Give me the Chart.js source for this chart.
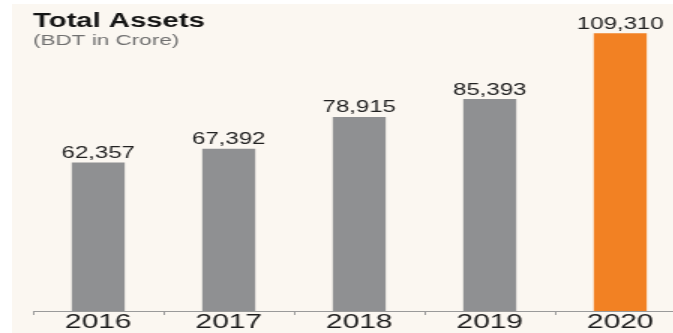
<!DOCTYPE html>
<html>
<head>
<meta charset="utf-8">
<script src="https://cdn.jsdelivr.net/npm/chart.js@4/dist/chart.umd.min.js"></script>
<style>
  html, body { margin: 0; padding: 0; background: #ffffff; overflow: hidden; width: 673px; height: 333px; }
  #bg { position: absolute; left: 12px; top: 4px; right: 0; bottom: 0; background: #fbf7f1; }
  #wrap { position: absolute; left: 0; top: 0; width: 465px; height: 333px; transform: scaleX(1.5); transform-origin: 0 0; }
</style>
</head>
<body>
<div id="bg"></div>
<div id="wrap"><canvas id="c"></canvas></div>
<script>
const titleText = "Total Assets";
const subtitleText = "(BDT in Crore)";
const years = ["2016", "2017", "2018", "2019", "2020"];
const totalAssets = [62357, 67392, 78915, 85393, 109310];
const barColors = ["#8f9092", "#8f9092", "#8f9092", "#8f9092", "#f28123"];

const FONT = "'Liberation Sans', Arial, sans-serif";
const NARROW = "'Liberation Sans Narrow', 'Liberation Sans', Arial, sans-serif";

const labelPlugin = {
  id: "valueLabels",
  afterDatasetsDraw(chart) {
    const ctx = chart.ctx;
    const meta = chart.getDatasetMeta(0);
    ctx.save();
    ctx.font = "16px " + FONT;
    ctx.fillStyle = "#222222";
    ctx.textAlign = "center";
    ctx.textBaseline = "alphabetic";
    meta.data.forEach((bar, i) => {
      ctx.fillText(totalAssets[i].toLocaleString("en-US"), bar.x, bar.y - 4.5);
    });
    ctx.restore();
  },
  afterDraw(chart) {
    const ctx = chart.ctx;
    ctx.save();
    ctx.textAlign = "left";
    ctx.textBaseline = "alphabetic";
    ctx.fillStyle = "#151515";
    ctx.font = "bold 19.5px " + FONT;
    ctx.fillText(titleText, chart.chartArea.left, 27);
    ctx.fillStyle = "#707070";
    ctx.font = "15px " + NARROW;
    ctx.fillText(subtitleText, chart.chartArea.left, 45);
    ctx.restore();
  }
};

new Chart(document.getElementById("c"), {
  type: "bar",
  data: {
    labels: years,
    datasets: [{
      data: totalAssets,
      backgroundColor: barColors,
      borderWidth: 0,
      barPercentage: 0.406,
      categoryPercentage: 1.0
    }]
  },
  options: {
    responsive: true,
    maintainAspectRatio: false,
    animation: false,
    devicePixelRatio: 1,
    layout: { padding: { left: 22, right: 8, top: 17.5, bottom: 0 } },
    plugins: { legend: { display: false }, tooltip: { enabled: false } },
    scales: {
      x: {
        offset: true,
        afterFit(scale) { scale.height = 22; },
        grid: { display: true, drawOnChartArea: false, drawTicks: true, tickLength: 4, color: "#9a9a9a", offset: true },
        border: { display: true, color: "#9a9a9a", width: 1 },
        ticks: { color: "#1c1c1c", padding: -5, font: { family: FONT, size: 20 } }
      },
      y: {
        display: false,
        min: 8500,
        max: 115000
      }
    }
  },
  plugins: [labelPlugin]
});
</script>
</body>
</html>
